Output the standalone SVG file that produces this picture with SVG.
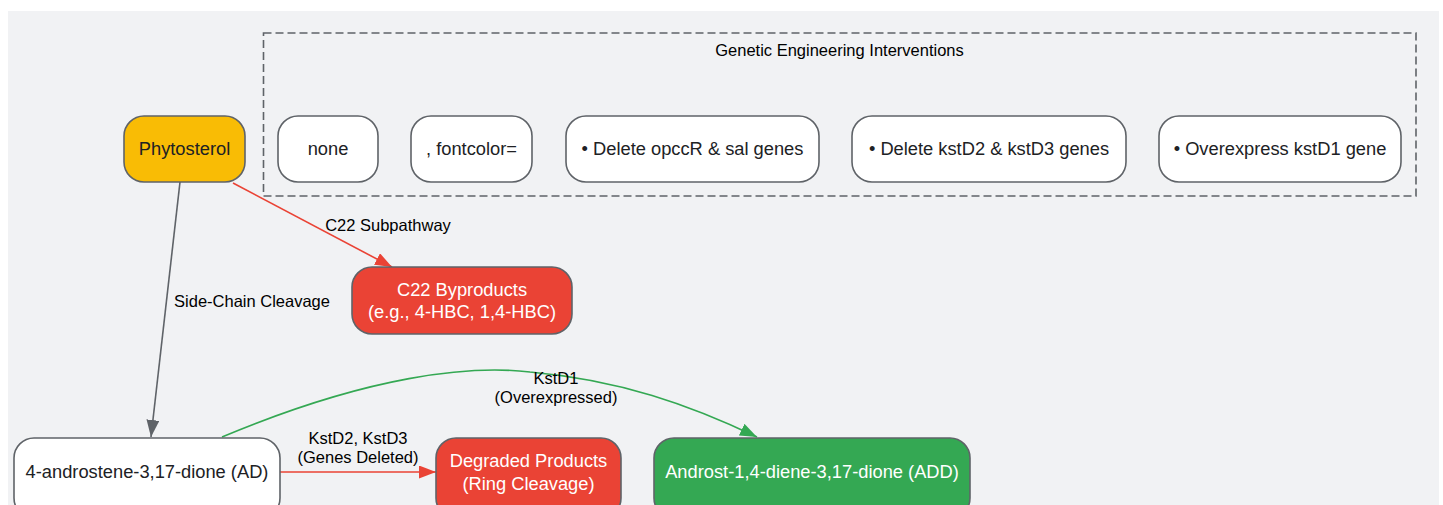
<svg xmlns="http://www.w3.org/2000/svg" width="1443" height="505" viewBox="0 0 1443 505">
<defs>
<style>
.node{stroke:#5f6368;stroke-width:1.6}
.t{font-family:"Liberation Sans",Arial,sans-serif;font-size:18.3px;text-anchor:middle;fill:#202124}
.tw{fill:#ffffff}
.el{font-family:"Liberation Sans",Arial,sans-serif;font-size:16.5px;text-anchor:middle;fill:#000000}
.e{fill:none;stroke-width:1.6}
</style>
<marker id="ag" viewBox="0 0 17 13" refX="17" refY="6.5" markerWidth="17" markerHeight="13" markerUnits="userSpaceOnUse" orient="auto"><path d="M0,0 L17,6.5 L0,13 z" fill="#5f6368"/></marker>
<marker id="ar" viewBox="0 0 17 13" refX="17" refY="6.5" markerWidth="17" markerHeight="13" markerUnits="userSpaceOnUse" orient="auto"><path d="M0,0 L17,6.5 L0,13 z" fill="#ea4335"/></marker>
<marker id="agr" viewBox="0 0 17 13" refX="17" refY="6.5" markerWidth="17" markerHeight="13" markerUnits="userSpaceOnUse" orient="auto"><path d="M0,0 L17,6.5 L0,13 z" fill="#34a853"/></marker>
</defs>
<rect x="8" y="11" width="1431" height="500" fill="#f1f2f4"/>
<g id="cluster">
<rect x="263.5" y="33" width="1152.5" height="163" fill="none" stroke="#5f6368" stroke-width="1.6" stroke-dasharray="8,4"/>
<text class="el" x="839.5" y="55.5">Genetic Engineering Interventions</text>
</g>
<g id="connectors">
<path class="e" stroke="#5f6368" d="M180,182 L151,437" marker-end="url(#ag)"/>
<text class="el" x="252" y="307">Side-Chain Cleavage</text>
<path class="e" stroke="#ea4335" d="M233,183 L392,267" marker-end="url(#ar)"/>
<text class="el" x="388" y="231">C22 Subpathway</text>
<path class="e" stroke="#ea4335" d="M280,472 L436,472" marker-end="url(#ar)"/>
<text class="el" x="358" y="444">KstD2, KstD3</text>
<text class="el" x="358" y="463">(Genes Deleted)</text>
<path class="e" stroke="#34a853" d="M222,437 C370,375 470,365 530,372 C620,380 690,405 757,437" marker-end="url(#agr)"/>
<text class="el" x="556" y="384">KstD1</text>
<text class="el" x="556" y="403">(Overexpressed)</text>
</g>
<g id="phytosterol">
<rect class="node" x="124" y="116" width="121" height="66" rx="20" fill="#f9bc05"/>
<text class="t" x="184.5" y="155">Phytosterol</text>
</g>
<g id="none">
<rect class="node" x="278" y="116" width="100" height="66" rx="20" fill="#ffffff"/>
<text class="t" x="328" y="155">none</text>
</g>
<g id="fontcolor">
<rect class="node" x="411" y="116" width="121" height="66" rx="20" fill="#ffffff"/>
<text class="t" x="471.5" y="155">, fontcolor=</text>
</g>
<g id="opccr">
<rect class="node" x="566" y="116" width="253" height="66" rx="20" fill="#ffffff"/>
<text class="t" x="692.5" y="155">• Delete opccR &amp; sal genes</text>
</g>
<g id="kstd23">
<rect class="node" x="852" y="116" width="274" height="66" rx="20" fill="#ffffff"/>
<text class="t" x="989" y="155">• Delete kstD2 &amp; kstD3 genes</text>
</g>
<g id="kstd1">
<rect class="node" x="1159" y="116" width="242" height="66" rx="20" fill="#ffffff"/>
<text class="t" x="1280" y="155">• Overexpress kstD1 gene</text>
</g>
<g id="c22">
<rect class="node" x="352" y="267" width="220" height="67" rx="20" fill="#ea4335"/>
<text class="t tw" x="462" y="296">C22 Byproducts</text>
<text class="t tw" x="462" y="317.5">(e.g., 4-HBC, 1,4-HBC)</text>
</g>
<g id="ad">
<rect class="node" x="14" y="438" width="266" height="80" rx="20" fill="#ffffff"/>
<text class="t" x="147" y="478">4-androstene-3,17-dione (AD)</text>
</g>
<g id="degraded">
<rect class="node" x="436" y="438" width="185" height="80" rx="20" fill="#ea4335"/>
<text class="t tw" x="528.5" y="466.5">Degraded Products</text>
<text class="t tw" x="528.5" y="489.5">(Ring Cleavage)</text>
</g>
<g id="add">
<rect class="node" x="654" y="438" width="316" height="80" rx="20" fill="#34a853"/>
<text class="t tw" x="812" y="478">Androst-1,4-diene-3,17-dione (ADD)</text>
</g>
</svg>
